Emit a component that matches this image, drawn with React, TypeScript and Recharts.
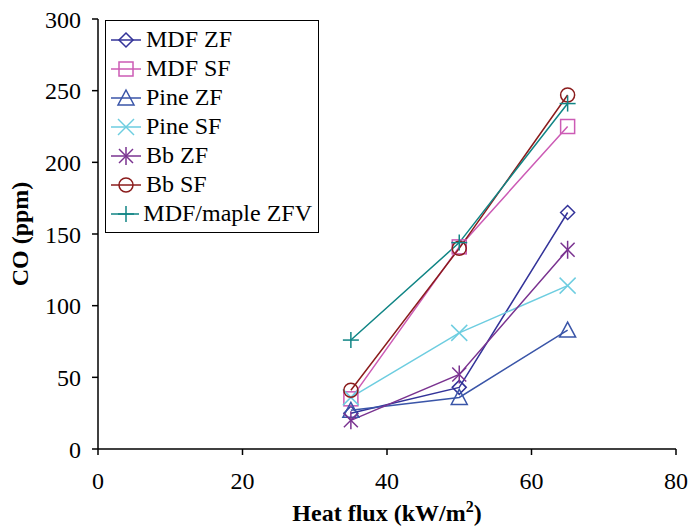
import React from "react";
import {
  LineChart,
  Line,
  XAxis,
  YAxis,
  Legend,
} from "recharts";

const heatFlux = [35, 50, 65];

const mdfZF = [25, 43, 165];
const mdfSF = [35, 141, 225];
const pineZF = [27, 36, 83];
const pineSF = [36, 81, 114];
const bbZF = [20, 52, 139];
const bbSF = [41, 140, 247];
const mapleZFV = [76, 144, 241];

const xTicks = [0, 20, 40, 60, 80];
const yTicks = [0, 50, 100, 150, 200, 250, 300];

type Shape = "diamond" | "square" | "triangle" | "cross" | "star" | "circle" | "plus";

const SERIES: { key: string; name: string; color: string; shape: Shape; values: number[] }[] = [
  { key: "mdfZF", name: "MDF ZF", color: "#333399", shape: "diamond", values: mdfZF },
  { key: "mdfSF", name: "MDF SF", color: "#cc5bb5", shape: "square", values: mdfSF },
  { key: "pineZF", name: "Pine ZF", color: "#3a55a8", shape: "triangle", values: pineZF },
  { key: "pineSF", name: "Pine SF", color: "#6dcde0", shape: "cross", values: pineSF },
  { key: "bbZF", name: "Bb ZF", color: "#7a3390", shape: "star", values: bbZF },
  { key: "bbSF", name: "Bb SF", color: "#8b1c1c", shape: "circle", values: bbSF },
  { key: "mapleZFV", name: "MDF/maple ZFV", color: "#108585", shape: "plus", values: mapleZFV },
];

const data = heatFlux.map((x, i) => {
  const row: Record<string, number> = { x };
  SERIES.forEach((s) => (row[s.key] = s.values[i]));
  return row;
});

const FONT = '"Liberation Serif", "Times New Roman", serif';

function Marker({ cx, cy, shape, color }: { cx: number; cy: number; shape: Shape; color: string }) {
  const s = 7;
  const common = { stroke: color, strokeWidth: 1.5, fill: "none" };
  switch (shape) {
    case "diamond":
      return <polygon points={`${cx},${cy - s} ${cx + s},${cy} ${cx},${cy + s} ${cx - s},${cy}`} {...common} />;
    case "square":
      return <rect x={cx - s} y={cy - s} width={2 * s} height={2 * s} {...common} />;
    case "triangle":
      return <polygon points={`${cx},${cy - s - 1} ${cx + s + 1},${cy + s} ${cx - s - 1},${cy + s}`} {...common} />;
    case "circle":
      return <circle cx={cx} cy={cy} r={s} {...common} />;
    case "cross":
      return (
        <g {...common}>
          <line x1={cx - s - 1} y1={cy - s - 1} x2={cx + s + 1} y2={cy + s + 1} />
          <line x1={cx - s - 1} y1={cy + s + 1} x2={cx + s + 1} y2={cy - s - 1} />
        </g>
      );
    case "star":
      return (
        <g {...common}>
          <line x1={cx - s} y1={cy - s} x2={cx + s} y2={cy + s} />
          <line x1={cx - s} y1={cy + s} x2={cx + s} y2={cy - s} />
          <line x1={cx} y1={cy - s - 2} x2={cx} y2={cy + s + 2} />
        </g>
      );
    case "plus":
      return (
        <g {...common}>
          <line x1={cx - s - 1} y1={cy} x2={cx + s + 1} y2={cy} />
          <line x1={cx} y1={cy - s - 1} x2={cx} y2={cy + s + 1} />
        </g>
      );
  }
  return null;
}

function LegendBox() {
  return (
    <div
      style={{
        border: "1.5px solid #000",
        background: "#fff",
        padding: "4px 6px 4px 4px",
        fontFamily: FONT,
        fontSize: 24,
        lineHeight: "29px",
        color: "#000",
        width: 214,
        boxSizing: "border-box",
      }}
    >
      {SERIES.map((s) => (
        <div key={s.key} style={{ display: "flex", alignItems: "center", whiteSpace: "nowrap" }}>
          <svg width={32} height={20} style={{ marginRight: 4 }}>
            <line x1={1} y1={10} x2={31} y2={10} stroke={s.color} strokeWidth={1.5} />
            <Marker cx={16} cy={10} shape={s.shape} color={s.color} />
          </svg>
          <span>{s.name}</span>
        </div>
      ))}
    </div>
  );
}

export default function App() {
  return (
    <div style={{ position: "absolute", left: 0, top: 0, background: "#fff" }}>
      <LineChart
        width={688}
        height={529}
        data={data}
        margin={{ top: 19, right: 12, left: 0, bottom: 0 }}
      >
        <XAxis
          dataKey="x"
          type="number"
          domain={[0, 80]}
          ticks={xTicks}
          tickSize={6}
          stroke="#000"
          strokeWidth={1.5}
          height={80}
          tick={{ fill: "#000", fontSize: 24, fontFamily: FONT, dy: 15 }}
          label={(props: any) => {
            const vb = props.viewBox || {};
            return (
              <text
                x={vb.x + vb.width / 2}
                y={521}
                textAnchor="middle"
                fontFamily={FONT}
                fontWeight="bold"
                fontSize={24}
                fill="#000"
              >
                Heat flux (kW/m
                <tspan dy={-9} fontSize={16}>2</tspan>
                <tspan dy={9}>)</tspan>
              </text>
            );
          }}
        />
        <XAxis
          xAxisId="top"
          orientation="top"
          dataKey="x"
          type="number"
          domain={[0, 80]}
          tick={false}
          tickLine={false}
          height={0}
          stroke="#000"
          strokeWidth={1.5}
        />
        <YAxis
          domain={[0, 300]}
          ticks={yTicks}
          tickSize={6}
          width={98}
          stroke="#000"
          strokeWidth={1.5}
          interval={0}
          tick={{ fill: "#000", fontSize: 24, fontFamily: FONT, dx: -9 }}
          label={(props: any) => {
            const vb = props.viewBox || {};
            const cy = vb.y + vb.height / 2;
            return (
              <text
                x={28}
                y={cy}
                transform={`rotate(-90, 28, ${cy})`}
                textAnchor="middle"
                fontFamily={FONT}
                fontWeight="bold"
                fontSize={24}
                fill="#000"
              >
                CO (ppm)
              </text>
            );
          }}
        />
        <YAxis
          yAxisId="right"
          orientation="right"
          domain={[0, 300]}
          tick={false}
          tickLine={false}
          width={0}
          stroke="#000"
          strokeWidth={1.5}
        />
        <Legend
          layout="vertical"
          align="center"
          verticalAlign="middle"
          content={() => <LegendBox />}
          wrapperStyle={{ left: 105, top: 20, width: "auto" }}
        />
        {SERIES.map((s) => (
          <Line
            key={s.key}
            dataKey={s.key}
            name={s.name}
            type="linear"
            stroke={s.color}
            strokeWidth={1.5}
            isAnimationActive={false}
            dot={(p: any) => (
              <Marker key={`${s.key}-${p.index}`} cx={p.cx} cy={p.cy} shape={s.shape} color={s.color} />
            )}
            activeDot={false}
          />
        ))}
      </LineChart>
    </div>
  );
}
